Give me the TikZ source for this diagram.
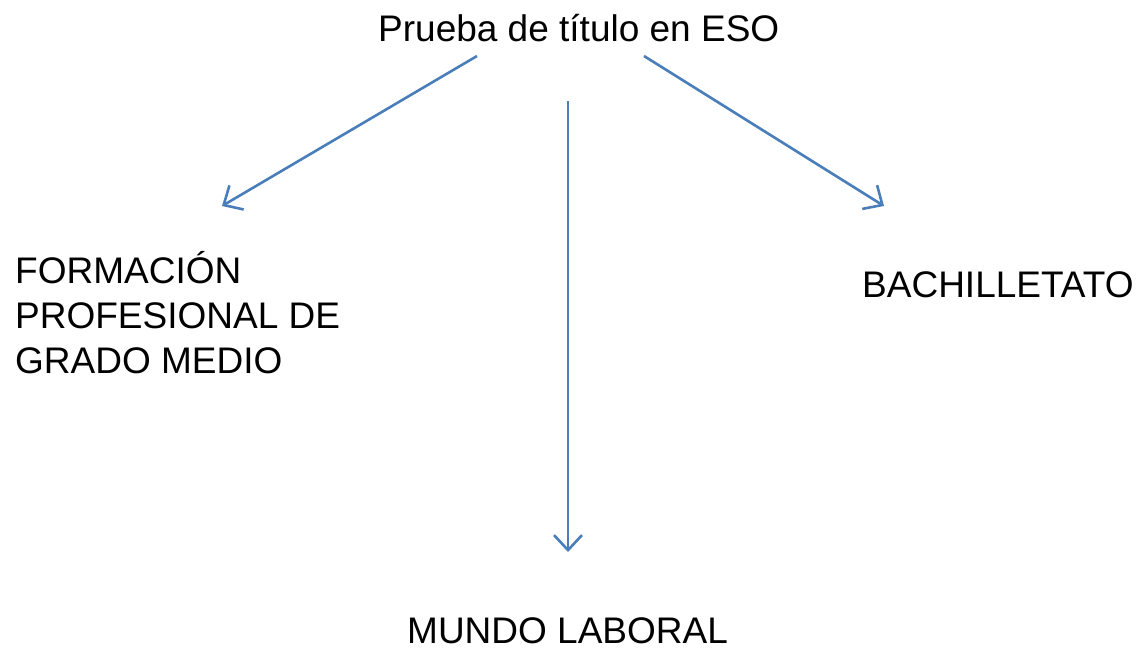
\documentclass[tikz,border=0pt]{standalone}
\usepackage{fontspec}
\setmainfont{Liberation Sans}
\usetikzlibrary{arrows.meta}
\definecolor{arrowblue}{HTML}{4A7EBB}
\tikzset{
  lbl/.style={inner sep=0pt, font=\fontsize{37}{45}\selectfont, text=black},
  conn/.style={draw=arrowblue, line width=2.6pt, -{Straight Barb[length=15pt,width=28pt,line width=2.6pt]}}
}
\begin{document}
\begin{tikzpicture}[x=1pt,y=-1pt]
\useasboundingbox (0,0) rectangle (1145,649);
\node[lbl, anchor=base west] (top) at (378,41) {Prueba de título en ESO};
\node[lbl, anchor=base west, align=left] (fp) at (15,373) {FORMACIÓN\\PROFESIONAL DE\\GRADO MEDIO};
\node[lbl, anchor=base west] (bach) at (862,297) {BACHILLETATO};
\node[lbl, anchor=base west] (ml) at (407,643) {MUNDO LABORAL};
\coordinate (s1) at (477,56);
\coordinate (e1) at (222,206);
\coordinate (s2) at (568,101);
\coordinate (e2) at (568,552);
\coordinate (s3) at (644,56);
\coordinate (e3) at (884,206);
\draw[conn] (s1) -- (e1);
\draw[conn] (s2) -- (e2);
\draw[conn] (s3) -- (e3);
\end{tikzpicture}
\end{document}
